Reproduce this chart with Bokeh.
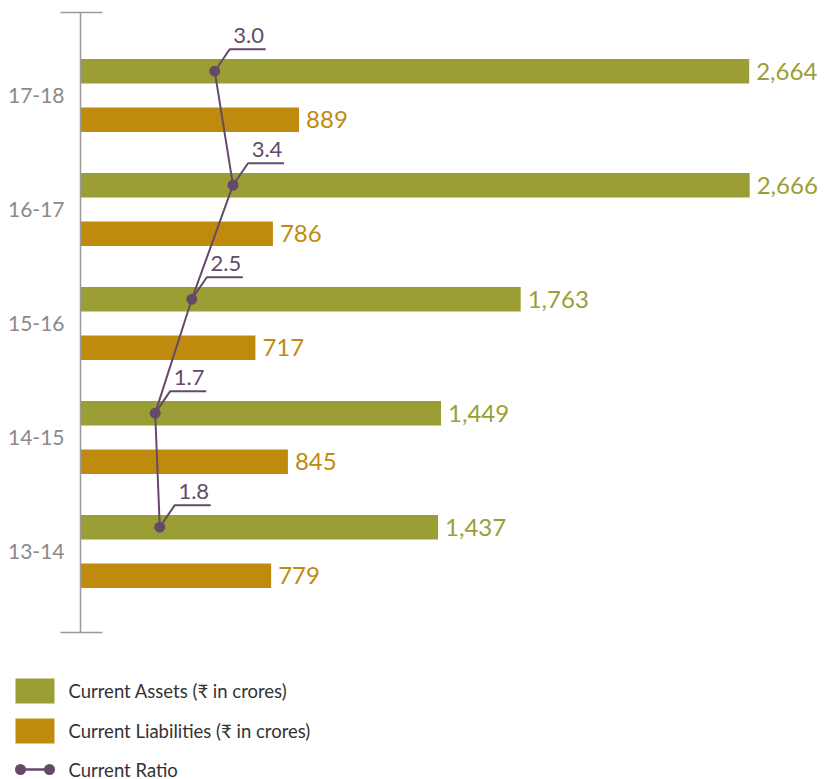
from bokeh.plotting import figure
from bokeh.models import Range1d, FixedTicker, ColumnDataSource
from bokeh.embed import file_html
from bokeh.resources import INLINE
from bokeh.core.properties import value

# ---------------- data ----------------
CATEGORIES = ["13-14", "14-15", "15-16", "16-17", "17-18"]
CURRENT_ASSETS = [1437, 1449, 1763, 2666, 2664]
CURRENT_LIABILITIES = [779, 845, 717, 786, 889]
CURRENT_RATIO = [1.8, 1.7, 2.5, 3.4, 3.0]
SERIES = ["Current Assets (\u20b9 in crores)",
          "Current Liabilities (\u20b9 in crores)",
          "Current Ratio"]

# ---------------- styles ----------------
GREEN = "#9A9E35"
GOLD = "#BF8B0E"
PURPLE = "#654A68"
AXIS_GRAY = "#9a9a9a"
LABEL_GRAY = "#8a8a8a"
TEXT_DARK = "#333333"
FONT = value("Lato")

W = 829
LEFT, TOP = 80, 12
FRAME_W, FRAME_H = W - LEFT, 620
MAIN_H = TOP + FRAME_H + 8
LEG_H = 779 - MAIN_H

X_RANGE = (27.2, 2980.7)
RATIO_RANGE = (0.068, 16.432)
Y_RANGE = (-0.711, 4.728)
BAR_OFFSET = 0.213
BAR_H = 0.215

px_ratio = FRAME_W / (RATIO_RANGE[1] - RATIO_RANGE[0])
px_cat = FRAME_H / (Y_RANGE[1] - Y_RANGE[0])

pos = list(range(len(CATEGORIES)))
ya = [p + BAR_OFFSET for p in pos]
yl = [p - BAR_OFFSET for p in pos]

src = ColumnDataSource(dict(
    ya=ya, yl=yl,
    assets=CURRENT_ASSETS, liab=CURRENT_LIABILITIES, ratio=CURRENT_RATIO,
    assets_txt=[f"{v:,}" for v in CURRENT_ASSETS],
    liab_txt=[f"{v:,}" for v in CURRENT_LIABILITIES],
))

p = figure(width=W, height=MAIN_H,
           x_range=Range1d(*X_RANGE), y_range=Range1d(*Y_RANGE),
           x_axis_location=None, y_axis_location="left",
           output_backend="svg", toolbar_location=None,
           min_border_left=LEFT, min_border_right=0, min_border_top=TOP, min_border_bottom=8,
           outline_line_color=None)
p.extra_x_ranges = {"ratio": Range1d(*RATIO_RANGE)}
p.grid.visible = False

# bars
p.hbar(y="ya", left=0, right="assets", height=BAR_H, fill_color=GREEN, line_color=None, source=src)
p.hbar(y="yl", left=0, right="liab", height=BAR_H, fill_color=GOLD, line_color=None, source=src)

# bar value labels
p.text(x="assets", y="ya", text="assets_txt", x_offset=7, text_baseline="middle",
       text_font=FONT, text_font_size="24px", text_color=GREEN, source=src)
p.text(x="liab", y="yl", text="liab_txt", x_offset=7, text_baseline="middle",
       text_font=FONT, text_font_size="24px", text_color=GOLD, source=src)

# current ratio line
p.line(x="ratio", y="ya", x_range_name="ratio", line_color=PURPLE, line_width=2, source=src)

# leader lines & labels
dx1 = 15 / px_ratio
dx2 = 51 / px_ratio
dy = 22 / px_cat
lead_xs = [[r, r + dx1, r + dx2] for r in CURRENT_RATIO]
lead_ys = [[y, y + dy, y + dy] for y in ya]
p.multi_line(xs=lead_xs, ys=lead_ys, x_range_name="ratio", line_color=PURPLE, line_width=2)
p.text(x=[r + 34 / px_ratio for r in CURRENT_RATIO], y=[y + dy + 13.5 / px_cat for y in ya],
       text=[f"{r:.1f}" for r in CURRENT_RATIO], x_range_name="ratio",
       text_align="center", text_baseline="middle",
       text_font=FONT, text_font_size="22px", text_color=PURPLE)

p.scatter(x="ratio", y="ya", x_range_name="ratio", size=11, marker="circle",
          fill_color=PURPLE, line_color=None, source=src)

# y axis
ax = p.yaxis[0]
ax.ticker = FixedTicker(ticks=pos, minor_ticks=[Y_RANGE[0] + 0.002, Y_RANGE[1] - 0.002])
ax.major_label_overrides = {i: c for i, c in zip(pos, CATEGORIES)}
ax.major_tick_in = 0
ax.major_tick_out = 0
ax.minor_tick_in = 22
ax.minor_tick_out = 20
ax.minor_tick_line_color = AXIS_GRAY
ax.minor_tick_line_width = 1.5
ax.axis_line_color = AXIS_GRAY
ax.axis_line_width = 1.5
ax.major_label_text_font = "Lato"
ax.major_label_text_font_size = "21px"
ax.major_label_text_color = LABEL_GRAY
ax.major_label_standoff = -4

# ---------------- legend (separate panel below) ----------------
lg = figure(width=W, height=LEG_H,
            x_range=Range1d(0, W), y_range=Range1d(LEG_H, 0),
            x_axis_location=None, y_axis_location=None,
            output_backend="svg", toolbar_location=None,
            min_border=0, outline_line_color=None)
lg.grid.visible = False
lg.quad(left=[15, 15], right=[54, 54], top=[38, 78], bottom=[63, 103],
        fill_color=[GREEN, GOLD], line_color=None)
lg.line(x=[20, 49], y=[129, 129], line_color=PURPLE, line_width=2.5)
lg.scatter(x=[20, 49], y=[129, 129], size=11, marker="circle", fill_color=PURPLE, line_color=None)
lg.text(x=[68, 68, 68], y=[50.5, 90.5, 129], text=SERIES, text_baseline="middle",
        text_font=FONT, text_font_size="18.5px", text_color=TEXT_DARK)

open("out.html", "w").write(file_html([p, lg], INLINE))
